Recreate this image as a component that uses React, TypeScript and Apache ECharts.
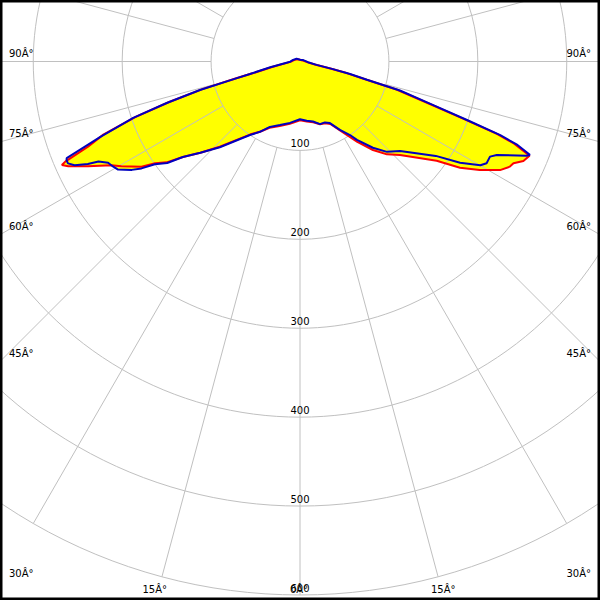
import React, { useEffect, useRef } from "react";
import * as echarts from "echarts";

// Signed angle from nadir (negative = left half), intensity values
const blueAngles = [-180, -130, -102.6, -89, -79, -76, -75.1, -74.1, -72.7, -71.3, -69.3, -67.5, -67.1, -66.3, -65.3, -64.2, -63.6, -62.2, -60.6, -59.3, -57.2, -56, -54.7, -52.6, -50.8, -47.5, -43.1, -36.7, -34.2, -29.7, -24.7, -17.5, -9.3, 0, 6.5, 12.2, 17.7, 22.2, 25.9, 30.3, 34.2, 36, 40.2, 43.9, 48.2, 55.2, 57.7, 60.1, 61.4, 63.4, 64.6, 67.4, 67.9, 69.0, 69.8, 70.7, 71.9, 73.8, 74.8, 76, 77, 78.5, 85, 114, 180];
const blueValues = [2, 5, 8, 11, 34, 58, 78, 117, 157, 198, 240, 284, 285, 285, 279, 265, 253, 244, 241, 238, 225, 215, 200, 188, 170, 152, 132, 107, 100, 91, 81, 75, 70, 65, 67, 69, 74, 74, 77, 89, 100, 109, 127, 141, 151, 186, 213, 234, 239, 239, 245, 276, 279, 262, 240, 199, 157, 117, 78, 58, 38, 19, 9, 4, 2];

const redAngles = [-180, -130, -103, -89, -79, -76, -75.2, -74.2, -72.8, -71.4, -69.6, -68.1, -66.9, -66.5, -65.7, -63.7, -61.2, -59.6, -56.4, -54.9, -52.9, -50.8, -47.5, -43.1, -36.7, -34.2, -29.7, -24.7, -17.5, -9.3, 0, 6.5, 12.2, 17.7, 22.2, 25.9, 30.3, 35.5, 39.5, 43.1, 46.9, 54, 56.4, 58.9, 61.5, 63.4, 64.5, 66, 67.7, 69.0, 69.8, 70.7, 71.9, 73.8, 74.8, 76, 77, 78.5, 85, 114, 180];
const redValues = [2, 4, 7, 10, 32, 55, 75, 114, 154, 195, 236, 257, 287, 292, 286, 266, 242, 233, 214, 199, 188, 170, 152, 131, 106, 99, 91, 82, 76, 71, 66, 68, 70, 74, 75, 78, 90, 111, 129, 143, 154, 190, 216, 236, 256, 264, 266, 275, 279, 258, 236, 195, 153, 113, 75, 55, 35, 17, 8, 3, 2];

const ringValues = [100, 200, 300, 400, 500, 600];
const ringLabels = ["100", "200", "300", "400", "500", "600"];
const sideAngles = [90, 75, 60, 45, 30];
const sideLabels = ["90Â°", "75Â°", "60Â°", "45Â°", "30Â°"];
const bottomAngles = [15, 0];
const bottomLabels = ["15Â°", "0Â°"];

const CX = 300;
const CY = 61.5;
const RMAX = 600;
const RPX = 533.5;
const W = 600;
const H = 600;

const FONT = { fontFamily: "DejaVu Sans", fontSize: 10, fill: "#000" };

function txt(x: number, y: number, text: string, align: string) {
  return {
    type: "text",
    x,
    y,
    z: 10,
    style: {
      text,
      ...FONT,
      align,
      verticalAlign: "middle",
      textAlign: align,
      textVerticalAlign: "middle",
    },
  };
}

export default function App() {
  const ref = useRef<HTMLDivElement>(null);
  useEffect(() => {
    if (!ref.current) return;
    const chart = echarts.init(ref.current, undefined, { renderer: "svg" });
    const blueData = blueAngles.map((a, i) => [blueValues[i], a]);
    const redData = redAngles.map((a, i) => [redValues[i], a]);

    const graphics: any[] = [];
    ringValues.forEach((v, i) => {
      graphics.push(txt(CX, CY + (v * RPX) / RMAX - 7, ringLabels[i], "center"));
    });
    sideAngles.forEach((g, i) => {
      const yEdge = CY + (g === 90 ? 0 : CX / Math.tan((g * Math.PI) / 180));
      graphics.push(txt(9, yEdge - 8, sideLabels[i], "left"));
      graphics.push(txt(W - 9, yEdge - 8, sideLabels[i], "right"));
    });
    bottomAngles.forEach((g, i) => {
      const off = (H - CY) * Math.tan((g * Math.PI) / 180);
      graphics.push(txt(CX - off - 1, H - 11, bottomLabels[i], "center"));
      if (g !== 0) graphics.push(txt(CX + off - 1, H - 11, bottomLabels[i], "center"));
    });
    graphics.push({
      type: "rect",
      z: 20,
      shape: { x: 0, y: 0, width: W, height: H },
      style: { fill: "none", stroke: "#000", lineWidth: 5 },
    });

    chart.setOption({
      animation: false,
      backgroundColor: "#fff",
      polar: [
        { center: [CX, CY], radius: [(100 * RPX) / RMAX, RPX] },
        { center: [CX, CY], radius: RPX },
      ],
      angleAxis: [
        {
          polarIndex: 0,
          type: "value",
          min: -180,
          max: 180,
          interval: 15,
          startAngle: 90,
          clockwise: false,
          z: 1,
          axisLine: { show: false },
          axisTick: { show: false },
          axisLabel: { show: false },
          splitLine: { show: true, lineStyle: { color: "#c0c0c0", width: 1 } },
        },
        {
          polarIndex: 1,
          type: "value",
          min: -180,
          max: 180,
          startAngle: 90,
          clockwise: false,
          show: false,
          axisLine: { show: false },
          axisTick: { show: false },
          axisLabel: { show: false },
          splitLine: { show: false },
        },
      ],
      radiusAxis: [
        {
          polarIndex: 0,
          type: "value",
          min: 100,
          max: 600,
          interval: 100,
          z: 1,
          axisLine: { show: false },
          axisTick: { show: false },
          axisLabel: { show: false },
          splitLine: { show: true, lineStyle: { color: "#c0c0c0", width: 1 } },
        },
        {
          polarIndex: 1,
          type: "value",
          min: 0,
          max: 600,
          show: false,
          axisLine: { show: false },
          axisTick: { show: false },
          axisLabel: { show: false },
          splitLine: { show: false },
        },
      ],
      series: [
        {
          type: "line",
          coordinateSystem: "polar",
          polarIndex: 1,
          data: redData,
          symbol: "none",
          z: 0,
          lineStyle: { width: 0, opacity: 0 },
          areaStyle: { color: "#ffff00", opacity: 1 },
        },
        {
          type: "line",
          coordinateSystem: "polar",
          polarIndex: 1,
          data: blueData,
          symbol: "none",
          z: 0,
          lineStyle: { width: 0, opacity: 0 },
          areaStyle: { color: "#ffff00", opacity: 1 },
        },
        {
          type: "line",
          coordinateSystem: "polar",
          polarIndex: 1,
          data: redData,
          symbol: "none",
          z: 3,
          lineStyle: { width: 2, color: "#ff0000" },
        },
        {
          type: "line",
          coordinateSystem: "polar",
          polarIndex: 1,
          data: blueData,
          symbol: "none",
          z: 4,
          lineStyle: { width: 2, color: "#0000c0" },
        },
      ],
      graphic: graphics,
    });
    return () => chart.dispose();
  }, []);
  return (
    <div
      ref={ref}
      style={{ position: "fixed", left: 0, top: 0, width: W, height: H, background: "#fff" }}
    />
  );
}
